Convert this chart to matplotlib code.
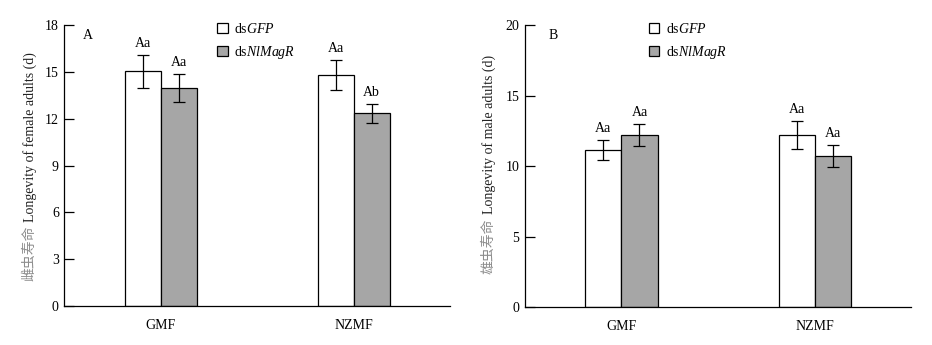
import matplotlib
matplotlib.use("Agg")
import matplotlib.pyplot as plt
from matplotlib.patches import Patch
import numpy as np

plt.rcParams['font.family'] = ['Liberation Serif', 'Noto Sans CJK SC']
plt.rcParams['mathtext.fontset'] = 'custom'
plt.rcParams['mathtext.rm'] = 'Liberation Serif'
plt.rcParams['mathtext.it'] = 'Liberation Serif:italic'

categories = ["GMF", "NZMF"]
series_names = ["ds$\\it{GFP}$", "ds$\\it{NlMagR}$"]

female_mean = {"dsGFP": [15.05, 14.8], "dsNlMagR": [14.0, 12.35]}
female_se = {"dsGFP": [1.05, 0.98], "dsNlMagR": [0.9, 0.6]}
female_letters = {"dsGFP": ["Aa", "Aa"], "dsNlMagR": ["Aa", "Ab"]}

male_mean = {"dsGFP": [11.13, 12.2], "dsNlMagR": [12.2, 10.7]}
male_se = {"dsGFP": [0.7, 1.0], "dsNlMagR": [0.8, 0.78]}
male_letters = {"dsGFP": ["Aa", "Aa"], "dsNlMagR": ["Aa", "Aa"]}

female_yticks = [0, 3, 6, 9, 12, 15, 18]
male_yticks = [0, 5, 10, 15, 20]

female_ylabel_cn = "雌虫寿命"
female_ylabel_en = "Longevity of female adults (d)"
male_ylabel_cn = "雄虫寿命"
male_ylabel_en = "Longevity of male adults (d)"

colors = {"dsGFP": "white", "dsNlMagR": "#a6a6a6"}
keys = ["dsGFP", "dsNlMagR"]

fig = plt.figure(figsize=(9.32, 3.45), dpi=100)
axA = fig.add_axes([0.069, 0.113, 0.414, 0.814])
axB = fig.add_axes([0.563, 0.110, 0.415, 0.817])

FS = 10
width = 0.187


def draw(ax, means, ses, letters, yticks, lab_cn, lab_en, panel, px, legx,
         labx, labtop):
    x = np.arange(len(categories))
    for i, k in enumerate(keys):
        xs = x + (i - 0.5) * width
        ax.bar(xs, means[k], width, color=colors[k], edgecolor='black',
               linewidth=0.9, zorder=2)
        ax.errorbar(xs, means[k], yerr=ses[k], fmt='none', ecolor='black',
                    elinewidth=0.9, capsize=4.5, capthick=0.9, zorder=3)
        for xi, m, s, lab in zip(xs, means[k], ses[k], letters[k]):
            ax.annotate(lab, (xi, m + s), xytext=(0, 3.5),
                        textcoords='offset points', ha='center', va='bottom',
                        fontsize=FS)
    ax.set_xlim(-0.5, 1.5)
    ax.set_ylim(yticks[0], yticks[-1])
    ax.set_yticks(yticks)
    ax.set_xticks(x)
    ax.set_xticklabels(categories, fontsize=FS)
    ax.tick_params(axis='y', direction='in', length=7, width=0.9,
                   labelsize=FS, pad=4)
    ax.tick_params(axis='x', length=0, pad=9)
    for s in ['top', 'right']:
        ax.spines[s].set_visible(False)
    for s in ['left', 'bottom']:
        ax.spines[s].set_linewidth(0.9)
    t_en = ax.text(labx, labtop, lab_en, transform=ax.transAxes,
                   rotation=90, ha='center', va='top', fontsize=FS,
                   color='#222222')
    ax.annotate(lab_cn, xy=(0.5, 0), xycoords=t_en, xytext=(0, -3),
                textcoords='offset points', rotation=90, ha='center',
                va='top', fontsize=FS, color='#8c8c8c')
    ax.text(px, 0.985, panel, transform=ax.transAxes, ha='left', va='top',
            fontsize=FS)
    handles = [Patch(facecolor=colors[k], edgecolor='black', linewidth=0.9)
               for k in keys]
    ax.legend(handles, series_names, loc='upper left',
              bbox_to_anchor=(legx, 1.012), frameon=False, fontsize=FS,
              handlelength=0.75, handleheight=0.75, handletextpad=0.5,
              labelspacing=0.6, borderpad=0, borderaxespad=0)


draw(axA, female_mean, female_se, female_letters, female_yticks,
     female_ylabel_cn, female_ylabel_en, "A", 0.049, 0.396, -0.089, 0.905)
draw(axB, male_mean, male_se, male_letters, male_yticks,
     male_ylabel_cn, male_ylabel_en, "B", 0.062, 0.321, -0.092, 0.895)

fig.savefig("out.png", dpi=100)
